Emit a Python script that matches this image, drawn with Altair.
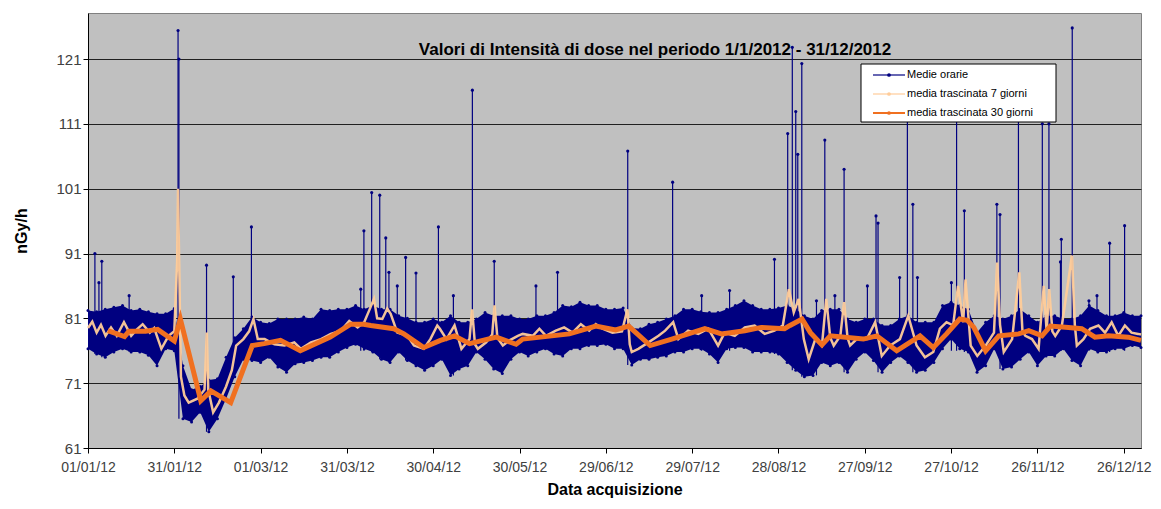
import altair as alt
import pandas as pd

FONT = "Liberation Sans"
NAVY = "#000080"
PEACH = "#FFCC99"
ORANGE = "#F07020"

title_text = "Valori di Intensità di dose nel periodo 1/1/2012 - 31/12/2012"
legend_labels = ["Medie orarie", "media trascinata 7  giorni", "media trascinata 30 giorni"]

# day offsets from 01/01/2012
band_day = list(range(0, 367, 3))
band_lo = [76.3, 75.5, 75.0, 75.8, 76.3, 75.8, 75.8, 75.3, 73.7, 76.3, 76.0,
           65.5, 65.0, 66.5, 63.5, 65.5, 68.6, 72.0, 74.7, 74.5, 74.2, 75.0,
           73.5, 72.7, 74.0, 74.2, 74.5, 75.0, 75.0, 75.8, 76.5, 77.0, 76.3,
           75.8, 74.7, 74.2, 75.8, 74.5, 73.7, 73.0, 73.7, 74.7, 72.2, 73.2,
           73.7, 75.8, 74.7, 73.2, 72.5, 74.7, 75.8, 75.2, 75.8, 76.3, 75.5,
           75.2, 76.3, 76.3, 76.8, 76.8, 77.0, 76.3, 76.3, 73.8, 74.7, 74.7,
           75.0, 75.2, 75.8, 75.8, 76.3, 76.3, 75.5, 74.2, 76.3, 76.5, 76.5,
           75.8, 75.8, 75.8, 75.5, 74.2, 73.0, 72.0, 72.2, 74.2, 73.7, 74.2,
           72.7, 74.7, 75.8, 74.5, 72.7, 74.2, 75.2, 74.2, 72.7, 73.0, 74.2,
           76.3, 77.8, 76.3, 75.8, 72.7, 73.7, 76.3, 73.2, 73.5, 74.7, 75.8,
           73.7, 75.2, 75.2, 76.3, 74.5, 73.7, 76.3, 75.8, 75.8, 76.3, 76.3,
           76.8, 76.5]
band_hi = [82.2, 82.0, 82.4, 82.7, 83.0, 82.2, 82.4, 82.0, 81.7, 81.7, 82.5,
           73.7, 70.0, 70.5, 71.5, 71.7, 75.0, 78.0, 79.4, 81.2, 80.4, 80.2,
           80.9, 80.9, 80.9, 81.2, 80.9, 82.4, 82.2, 82.4, 82.4, 83.0, 82.4,
           83.0, 82.4, 82.4, 81.4, 81.0, 80.4, 80.4, 80.9, 80.4, 81.4, 80.4,
           80.4, 80.9, 81.9, 81.4, 81.4, 81.4, 80.9, 80.9, 81.4, 81.4, 81.9,
           83.0, 82.8, 83.5, 83.0, 83.0, 82.4, 82.4, 82.6, 79.5, 79.4, 80.1,
           80.4, 80.9, 81.4, 82.4, 82.4, 82.0, 81.9, 81.9, 82.4, 83.0, 83.7,
           83.0, 82.4, 82.4, 82.6, 83.0, 82.4, 81.4, 80.9, 82.2, 82.4, 82.4,
           80.9, 80.4, 80.9, 80.9, 79.9, 79.9, 80.9, 81.4, 80.4, 80.4, 80.4,
           83.0, 83.5, 83.0, 82.4, 78.8, 80.4, 81.4, 80.9, 81.4, 82.4, 81.4,
           80.4, 81.4, 81.4, 80.9, 80.9, 81.4, 83.0, 82.2, 81.4, 81.4, 81.9,
           81.4, 81.4]

spike_day = [2.4, 3.8, 4.8, 14.3, 31.3, 31.6, 41.2, 50.5, 56.8, 94.8,
             95.9, 98.6, 101.4, 103.5, 104.6, 107.5, 110.4, 114.0, 121.8, 127.0,
             133.6, 141.2, 155.7, 163.2, 187.6, 203.2, 213.3, 223.0, 238.6, 243.2,
             244.8, 246.0, 246.7, 248.1, 253.2, 256.1, 259.6, 262.8, 270.9, 273.9,
             274.6, 282.1, 284.8, 286.7, 288.3, 300.1, 301.9, 304.6, 315.9, 317.0,
             323.4, 331.7, 334.0, 338.0, 338.3, 342.1, 347.9, 350.7, 355.1, 360.3]
spike_top = [91.0, 86.5, 89.8, 84.5, 125.4, 121.0, 89.2, 87.4, 95.1, 85.5,
             94.5, 100.4, 100.0, 93.4, 88.1, 86.0, 90.4, 88.0, 95.1, 84.5,
             116.2, 89.8, 86.0, 88.1, 106.8, 102.0, 84.5, 85.3, 90.1, 109.5,
             122.8, 112.9, 106.3, 120.3, 83.7, 108.5, 84.5, 104.0, 86.0, 96.8,
             95.7, 87.3, 113.0, 98.6, 87.3, 86.5, 112.0, 97.6, 98.6, 97.0,
             112.0, 111.0, 111.0, 89.7, 93.2, 125.8, 83.7, 84.5, 92.6, 95.3]

ma7_day = [0, 1.5, 3, 4.5, 6.1, 8, 10, 12.5, 15, 17, 19, 21.5, 23, 25.5, 28, 30,
           31.0, 31.3, 31.6, 32.3, 33.5, 35, 38, 40.5, 41.3, 41.8, 43.5, 45.5, 48, 50,
           51.5, 54, 56, 57.5, 59, 61.4, 64.8, 68.3, 71.7, 74, 77.5, 81, 84.4, 87.9,
           90.8, 93.7, 96, 98, 99.4, 100.5, 102.3, 104, 105.2, 107.5, 111, 113.3,
           116.7, 119, 121.4, 122.3, 124.6, 127.4, 129.8, 132.6, 133.5, 134.5, 135.5,
           138.4, 140.5, 141.3, 142.3, 144.2, 146.5, 149.4, 151.1, 154.6, 156.9,
           159.2, 162.6, 165.5, 168.4, 171.3, 174.2, 176.5, 178.8, 182.3, 185.6,
           187.5, 188.3, 189, 191.3, 194.8, 198.3, 200.6, 203.4, 205.2, 208.6,
           212.1, 215.6, 219, 221.3, 224.8, 228.3, 231.7, 235.2, 238.6, 241.5,
           243.6, 245.3, 247, 248.8, 250.5, 252.8, 255.1, 256.6, 258, 259.2, 261.5,
           262.8, 264, 264.9, 267.2, 270.7, 273.6, 275.9, 278.8, 282.2, 285.1, 288,
           290.9, 293.8, 296.1, 298.4, 300.7, 302.4, 304.2, 305, 306.8, 309.1, 312,
           314.9, 316, 317, 318.3, 321.2, 323.7, 324.8, 325.8, 328.1, 330.4, 332.2,
           333.2, 334.1, 335.2, 336.2, 338.5, 342, 343, 343.7, 346, 348.3, 351.2,
           353.5, 355.8, 358.1, 360.4, 362.7, 365, 366]
ma7_val = [79.5, 80.5, 78.8, 80.0, 78.3, 79.6, 78.3, 80.4, 78.3, 79.3, 80.1, 78.8, 79.5, 76.3, 78.3, 79.0,
           90.0, 101.0, 92.0, 72.0, 69.1, 68.0, 68.6, 70.0, 78.8, 70.0, 66.5, 68.0, 70.5, 73.0,
           76.8, 77.8, 79.0, 80.9, 77.8, 77.8, 77.0, 76.8, 77.3, 76.3, 77.3, 77.8, 78.6, 79.1,
           80.6, 79.6, 80.4, 82.5, 84.0, 81.0, 80.9, 82.5, 81.7, 78.8, 78.3, 76.8,
           76.3, 77.8, 79.9, 79.4, 77.8, 79.9, 76.3, 77.8, 82.4, 77.0, 76.3,
           77.3, 78.5, 83.0, 78.0, 76.8, 77.6, 78.3, 78.6, 78.3, 79.4,
           78.3, 79.1, 79.6, 78.8, 80.1, 79.1, 80.1, 79.4, 78.8, 79.0,
           82.4, 77.0, 75.8, 76.3, 77.3, 78.3, 79.1, 80.4, 77.8, 79.1,
           78.6, 79.4, 76.8, 78.8, 78.3, 79.6, 79.9, 78.6, 79.1, 79.9,
           85.5, 81.9, 84.0, 77.8, 74.7, 77.8, 76.8, 84.0, 78.0, 76.8, 78.3,
           83.5, 78.0, 76.8, 77.8, 77.8, 80.4, 75.2, 76.8, 77.8, 81.4, 76.8,
           75.0, 75.8, 79.4, 80.4, 79.9, 86.0, 80.4, 87.0, 76.8, 75.2, 76.8,
           78.8, 89.6, 80.0, 75.8, 77.8, 88.1, 79.0, 78.3, 77.8, 76.3, 86.0,
           79.0, 85.5, 79.0, 78.3, 79.9, 90.7, 80.0, 76.8, 77.8, 79.4, 79.9,
           78.8, 80.4, 78.3, 79.9, 78.8, 78.6, 78.5]

ma30_day = [6.9, 12.7, 14.2, 20, 24.2, 30, 32.1, 39.2, 42.7, 49.6, 57.1, 61.2, 66.9,
            73.8, 84.2, 91.3, 95.8, 98.3, 106.3, 109.8, 116.7, 122.5, 127.4, 132.6,
            141.9, 148.8, 151.1, 167.3, 176.5, 183.4, 187.9, 195.4, 202.9, 214.4,
            220.2, 228.3, 234.0, 242.1, 244.0, 248.2, 251.1, 255.1, 258.0, 269.5,
            274.2, 281.1, 289.2, 293.8, 298.4, 303.0, 305.6, 307.9, 312.0, 316.6,
            323.5, 327.0, 331.6, 334.5, 340.8, 345.4, 350.0, 354.7, 361.6, 366.0]
ma30_val = [79.1, 78.2, 79.0, 79.0, 79.3, 77.5, 80.9, 68.3, 69.8, 68.0, 76.8, 77.1, 77.6,
            76.0, 78.1, 80.1, 80.1, 79.9, 79.4, 78.6, 76.5, 77.6, 78.3, 77.1,
            78.1, 77.0, 77.8, 78.6, 79.8, 79.2, 79.8, 76.8, 77.8, 79.4,
            78.6, 79.1, 79.6, 79.4, 79.9, 80.9, 78.8, 76.9, 78.3, 77.8,
            78.3, 76.0, 78.3, 76.5, 78.6, 80.9, 80.7, 79.6, 76.0, 78.3,
            78.6, 79.1, 78.3, 79.8, 79.6, 79.4, 78.1, 78.3, 78.1, 77.6]

df_band = pd.DataFrame({"day": band_day, "lo": band_lo, "hi": band_hi})
spike_base = [min(76.0, band_lo[int(round(d / 3))]) for d in spike_day]
df_spike = pd.DataFrame({"day": spike_day, "top": spike_top, "base": spike_base})
df_ma7 = pd.DataFrame({"day": ma7_day, "v": ma7_val})
df_ma30 = pd.DataFrame({"day": ma30_day, "v": ma30_val})
one = pd.DataFrame({"k": [0]})

x_axis = alt.Axis(
    values=list(range(0, 361, 30)),
    labelExpr="timeFormat(datetime(2012, 0, 1 + datum.value), '%d/%m/%y')",
    title="Data acquisizione", grid=False, tickSize=5, labelPadding=7,
    titlePadding=7, labelFontSize=14, labelColor="#404040",
    labelOverlap=False, labelBound=False, labelFlush=False,
)
y_axis = alt.Axis(
    values=[61, 71, 81, 91, 101, 111, 121], title="nGy/h", grid=True,
    gridColor="#202020", gridWidth=1, tickSize=5, labelPadding=2,
    titlePadding=26, labelFontSize=15, labelColor="#404040", labelOverlap=False,
)
xs = alt.Scale(domain=[0, 366], nice=False, zero=False)
ys = alt.Scale(domain=[61, 128.1], nice=False, zero=False)


def X():
    return alt.X("day:Q", scale=xs, axis=x_axis)


def Y(f):
    return alt.Y(f, scale=ys, axis=y_axis)


band = alt.Chart(df_band).mark_area(color=NAVY, opacity=1).encode(
    x=X(), y=Y("lo:Q"), y2="hi:Q")
band_lo_pts = alt.Chart(df_band).mark_point(color=NAVY, filled=True, size=9, opacity=1).encode(
    x=X(), y=Y("lo:Q"))
band_hi_pts = alt.Chart(df_band).mark_point(color=NAVY, filled=True, size=9, opacity=1).encode(
    x=X(), y=Y("hi:Q"))
spikes = alt.Chart(df_spike).mark_rule(color=NAVY, strokeWidth=1.2).encode(
    x=X(), y=Y("top:Q"), y2="base:Q")
spike_pts = alt.Chart(df_spike).mark_point(color=NAVY, filled=True, size=10, opacity=1).encode(
    x=X(), y=Y("top:Q"))
ma7 = alt.Chart(df_ma7).mark_line(color=PEACH, strokeWidth=2.5, opacity=0.95).encode(
    x=X(), y=Y("v:Q"))
ma30 = alt.Chart(df_ma30).mark_line(color=ORANGE, strokeWidth=5).encode(x=X(), y=Y("v:Q"))

title = alt.Chart(one).mark_text(font=FONT, fontSize=17, fontWeight="bold", color="black",
                                 align="center", baseline="middle").encode(
    x=alt.value(567), y=alt.value(37), text=alt.value(title_text))

leg_box = alt.Chart(one).mark_rect(fill="white", stroke="black", strokeWidth=1).encode(
    x=alt.value(773), x2=alt.value(968), y=alt.value(51), y2=alt.value(109))

leg_layers = [leg_box]
leg_y = [62, 81, 100]
leg_col = [NAVY, PEACH, ORANGE]
leg_w = [1.2, 1.2, 2]
for lbl, yy, c, w in zip(legend_labels, leg_y, leg_col, leg_w):
    leg_layers.append(alt.Chart(one).mark_rule(color=c, strokeWidth=w).encode(
        x=alt.value(785), x2=alt.value(817), y=alt.value(yy)))
    leg_layers.append(alt.Chart(one).mark_point(color=c, filled=True, size=14, opacity=1).encode(
        x=alt.value(801), y=alt.value(yy)))
    leg_layers.append(alt.Chart(one).mark_text(font=FONT, fontSize=11, color="black",
                                               align="left", baseline="middle").encode(
        x=alt.value(819), y=alt.value(yy), text=alt.value(lbl)))

chart = alt.layer(band, band_lo_pts, band_hi_pts, spikes, spike_pts, ma7, ma30, title,
                  *leg_layers).properties(
    width=1053, height=435,
    autosize=alt.AutoSizeParams(type="none"),
    padding={"left": 80, "top": 5, "right": 12, "bottom": 53},
    background="white",
).configure_view(fill="#C0C0C0", stroke="#808080", strokeWidth=1).configure_axis(
    labelFont=FONT, titleFont=FONT, titleFontSize=16, titleFontWeight="bold",
    titleColor="black", domainColor="black", tickColor="black",
)

chart.save("out.html", embed_options={"renderer": "svg", "actions": False})
